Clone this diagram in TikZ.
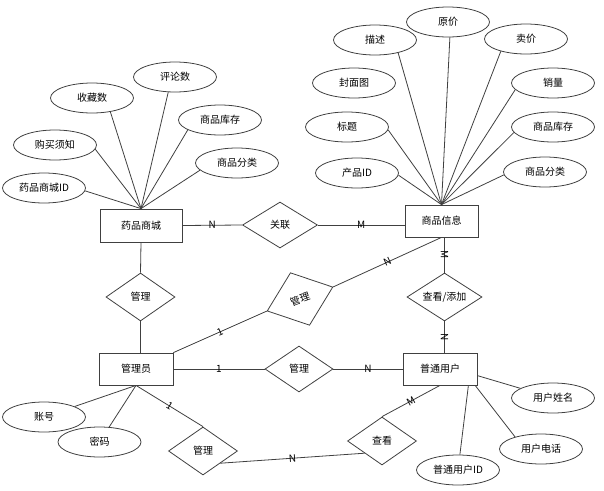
\documentclass[tikz,border=0pt]{standalone}
\usepackage{fontspec}
\usepackage{tikz}
\usetikzlibrary{shapes.geometric}
\newfontfamily\cjk{Noto Sans CJK SC}

\begin{document}
\begin{tikzpicture}[
font=\cjk\fontsize{7.5}{9}\selectfont,
x=0.75pt,y=-0.75pt,
entity/.style={draw=black!75,line width=0.6pt,rectangle,minimum width=55.5pt,minimum height=24pt,inner sep=0pt},
attr/.style={draw=black!75,line width=0.6pt,ellipse,minimum width=62.25pt,minimum height=22.5pt,inner sep=0pt},
rel/.style={draw=black!75,line width=0.6pt,diamond,aspect=1.5,minimum width=51.75pt,minimum height=36pt,inner sep=0pt},
link/.style={draw=black!75,line width=0.6pt},
card/.style={sloped,inner sep=0pt}]
    \useasboundingbox (0,0) rectangle (604,490);

    % Draw entities
    \node[entity,minimum width=61.5pt,minimum height=24.75pt] (mall) at (141,225.5) {药品商城};
    \node[entity,minimum width=54.75pt] (goods) at (441.5,221) {商品信息};
    \node[entity] (admin) at (136,369) {管理员};
    \node[entity] (user) at (440,369) {普通用户};

    % Draw relations
    \node[rel,minimum width=56.25pt,minimum height=34.5pt] (rel) at (280,225) {关联};
    \node[rel] (mg1) at (140.5,297) {管理};
    \node[rel,rotate=20,minimum width=52.5pt,minimum height=42pt] (mg2) at (300,299) {管理};
    \node[rel,minimum width=51pt,minimum height=34.5pt] (mg3) at (299,369) {管理};
    \node[rel,minimum width=56.25pt] (addview) at (444.5,297) {查看/添加};
    \node[rel] (mg4) at (203,451) {管理};
    \node[rel] (view) at (382,441) {查看};

    % Attributes of the mall
    \node[attr] (mallid) at (44,188) {药品商城ID};
    \node[attr] (notice) at (55,145) {购买须知};
    \node[attr] (fav) at (92,98) {收藏数};
    \node[attr] (review) at (175,77) {评论数};
    \node[attr] (mstock) at (220,120) {商品库存};
    \node[attr] (mcat) at (237,163) {商品分类};

    % Attributes of the goods
    \node[attr] (desc) at (375,40) {描述};
    \node[attr] (oprice) at (448,22) {原价};
    \node[attr] (sprice) at (526,39) {卖价};
    \node[attr] (cover) at (354,83) {封面图};
    \node[attr] (sales) at (553,83) {销量};
    \node[attr] (title) at (347,127) {标题};
    \node[attr] (gstock) at (553,127) {商品库存};
    \node[attr] (gid) at (357,173) {产品ID};
    \node[attr] (gcat) at (545,172) {商品分类};

    % Attributes of admin and user
    \node[attr] (account) at (44,417) {账号};
    \node[attr] (pwd) at (99.5,442) {密码};
    \node[attr] (uname) at (553,398) {用户姓名};
    \node[attr] (utel) at (541,449) {用户电话};
    \node[attr] (uid) at (458,470) {普通用户ID};

    \draw[link] (mall.north) -- (mallid.-4);
    \draw[link] (mall.north) -- (notice.-6);
    \draw[link] (mall.north) -- (fav.-37);
    \draw[link] (mall.north) -- (review.246);
    \draw[link] (mall.north) -- (mstock.197);
    \draw[link] (mall.north) -- (mcat.191);

    \draw[link] (goods.north) -- (desc.-29);
    \draw[link] (goods.north) -- (oprice.-83);
    \draw[link] (goods.north) -- (sprice.206);
    \draw[link] (goods.north) -- (sales.190);
    \draw[link] (goods.north) -- (title.-4);
    \draw[link] (goods.north) -- (gstock.188);
    \draw[link] (goods.north) -- (gid.-3);
    \draw[link] (goods.north) -- (gcat.184);

    \draw[link] (admin.south) -- (account);
    \draw[link] (admin.south) -- (pwd);
    \draw[link] (user.-10) -- (uname);
    \draw[link] (user.-25) -- (utel.155);
    \draw[link] (user.-30) -- (uid);

    % Cardinalities
    \draw[link] (mall.east) -- node[card] {N} (rel.west);
    \draw[link] (rel.east) -- node[card] {M} (rel.east -| goods.west);
    \draw[link] (mall.south) -- (mg1.north);
    \draw[link] (mg1.south) -- (mg1.south |- admin.north);
    \draw[link] (admin.north east) -- node[card] {1} (mg2.west);
    \draw[link] (mg2.east) -- node[card] {N} (goods.south);
    \draw[link] (addview.north |- goods.south) -- node[card] {M} (addview.north);
    \draw[link] (addview.south) -- node[card] {N} (addview.south |- user.north);
    \draw[link] (admin.east) -- node[card] {1} (mg3.west);
    \draw[link] (mg3.east) -- node[card] {N} (user.west);
    \draw[link] (admin.south) -- node[card] {1} (mg4.north);
    \draw[link] (mg4.south east) -- node[card] {N} (view.south west);
    \draw[link] (view.north) -- node[card] {M} (user.south);

\end{tikzpicture}
\end{document}
